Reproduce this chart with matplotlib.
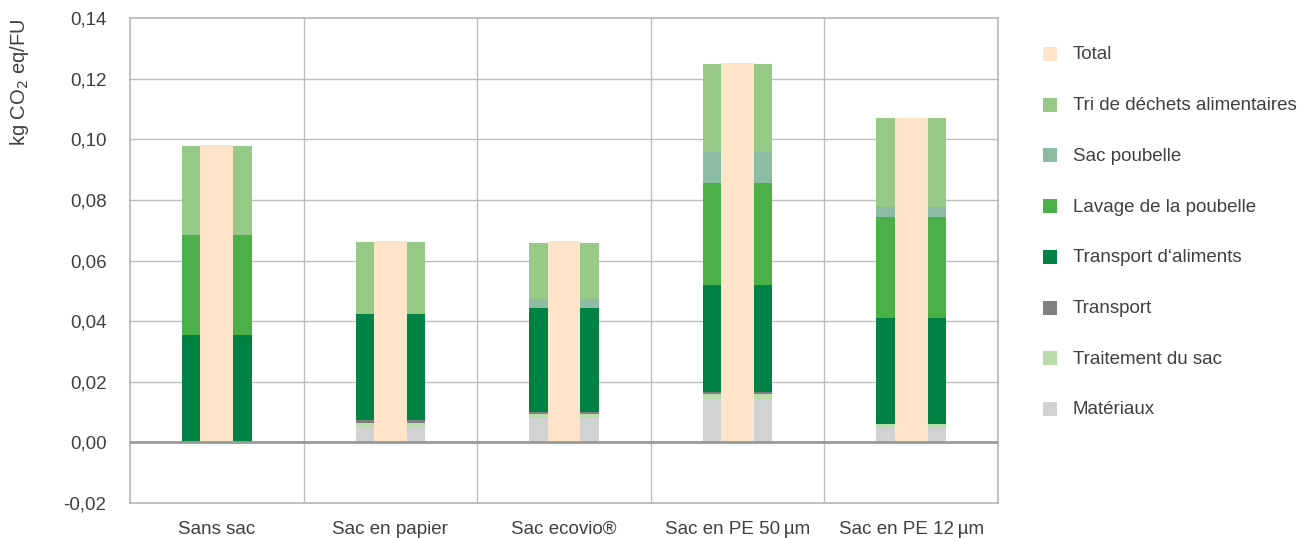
import numpy as np
import matplotlib
matplotlib.use("Agg")
import matplotlib.pyplot as plt
from matplotlib.patches import Rectangle

plt.rcParams["font.family"] = ["Liberation Sans", "DejaVu Sans"]

# kg CO2 eq per functional unit, one value per bag option
categories = ["Sans sac", "Sac en papier", "Sac ecovio\u00ae",
              "Sac en PE 50\u2009\u00b5m", "Sac en PE 12\u2009\u00b5m"]

materiaux = [0.0, 0.0050, 0.0079, 0.0144, 0.0046]
traitement = [0.0, 0.0014, 0.0014, 0.0016, 0.0014]
transport = [0.0, 0.0009, 0.0006, 0.0007, 0.0002]
transport_aliments = [0.0355, 0.0350, 0.0344, 0.0352, 0.0349]
lavage = [0.0330, 0.0, 0.0, 0.0336, 0.0331]
sac_poubelle = [0.0, 0.0, 0.0029, 0.0102, 0.0035]
tri = [0.0292, 0.0238, 0.0187, 0.0291, 0.0292]
total = [0.0981, 0.0664, 0.0663, 0.1251, 0.1071]

# stacking order bottom -> top
stack = [
    ("Matériaux", materiaux, "#d1d2d4"),
    ("Traitement du sac", traitement, "#b9dcaa"),
    ("Transport", transport, "#7f7f81"),
    ("Transport d\u2018aliments", transport_aliments, "#008244"),
    ("Lavage de la poubelle", lavage, "#4bb047"),
    ("Sac poubelle", sac_poubelle, "#8dbca5"),
    ("Tri de déchets alimentaires", tri, "#97c987"),
]
total_color = "#fee5c9"
text_color = "#404040"
grid_color = "#bdbdbd"
fs = 13.5

fig = plt.figure(figsize=(13.12, 5.38), dpi=100)
ax = fig.add_axes([130 / 1312, 35 / 538, 868 / 1312, 485 / 538])

x = np.arange(len(categories))
bottom = np.zeros(len(categories))
for name, vals, color in stack:
    ax.bar(x, vals, width=0.4, bottom=bottom, color=color, linewidth=0, zorder=2)
    bottom += np.array(vals)
ax.bar(x, total, width=0.19, color=total_color, linewidth=0, zorder=3)

ax.set_xlim(-0.5, len(categories) - 0.5)
ax.set_ylim(-0.02, 0.14)
yticks = np.arange(-0.02, 0.141, 0.02)
ax.set_yticks(yticks)
ax.set_yticklabels([f"{v:.2f}".replace(".", ",") for v in yticks])
ax.set_xticks(x)
ax.set_xticklabels(categories)
ax.tick_params(length=0, labelsize=fs, labelcolor=text_color)
ax.tick_params(axis="y", pad=17)
ax.tick_params(axis="x", pad=13)

# horizontal grid + category separators
for v in yticks[1:-1]:
    ax.axhline(v, color=grid_color, lw=1, zorder=1)
for b in np.arange(0.5, len(categories) - 0.5, 1):
    ax.axvline(b, color=grid_color, lw=1, zorder=1)
ax.axhline(0, color="#9a9a9a", lw=2, zorder=4)
for s in ax.spines.values():
    s.set_color("#b5b5b5")
    s.set_linewidth(1.2)

ax.set_ylabel("kg CO$_2$ eq/FU", fontsize=14.5, color=text_color)
ax.yaxis.set_label_coords(-0.114, 0.868)

# legend drawn as a column of swatches
legend_items = [("Total", total_color)] + [(n, c) for n, _, c in reversed(stack)]
for i, (name, color) in enumerate(legend_items):
    yc = 54 + i * 50.7
    fig.add_artist(Rectangle((1043 / 1312, 1 - (yc + 7) / 538), 14 / 1312, 14 / 538,
                             transform=fig.transFigure, facecolor=color, edgecolor="none"))
    fig.text(1073 / 1312, 1 - (yc + 1) / 538, name, fontsize=fs, color=text_color, va="center")

fig.savefig("out.png", dpi=100)
